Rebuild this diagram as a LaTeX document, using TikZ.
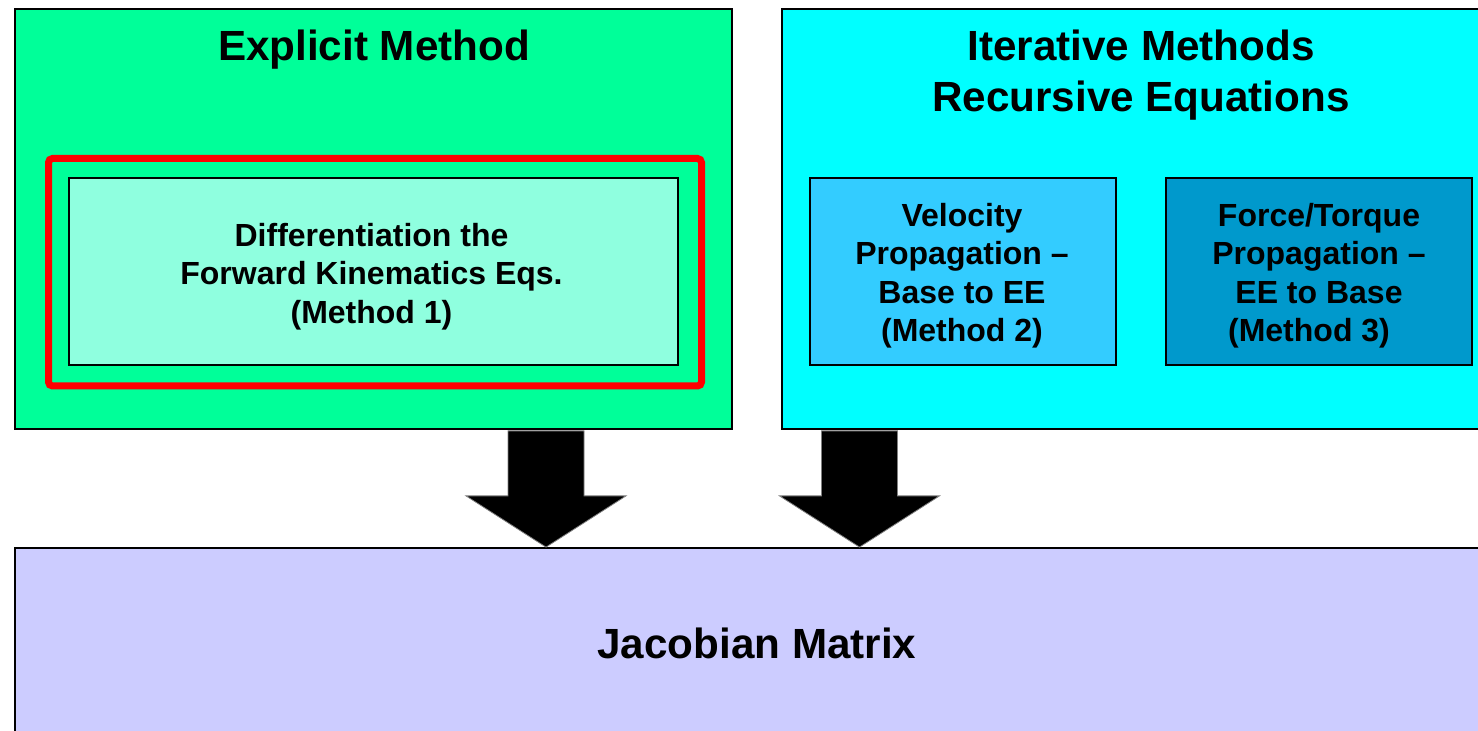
\documentclass[tikz,border=0pt]{standalone}
\usepackage{fontspec}
\setmainfont{Liberation Sans}
\usetikzlibrary{calc}
\definecolor{explicitgreen}{HTML}{00FF99}
\definecolor{itercyan}{HTML}{00FFFF}
\definecolor{innergreen}{HTML}{8FFFDF}
\definecolor{velblue}{HTML}{33CCFF}
\definecolor{forceblue}{HTML}{0099CC}
\definecolor{jacblue}{HTML}{CCCCFF}
\definecolor{redframe}{HTML}{FF0000}
\tikzset{
  outerbox/.style={draw=black, line width=0.9pt, inner sep=0pt, rectangle},
  innerbox/.style={draw=black, line width=0.75pt, inner sep=0pt, rectangle},
  boxtext/.style={inner sep=0pt, align=center, font=\fontsize{16}{19.25}\selectfont\bfseries},
  titletext/.style={inner sep=0pt, align=center, font=\fontsize{21.1}{25.5}\selectfont\bfseries},
  blockarrow/.style={fill=black, draw=gray, line width=0.4pt}
}
\begin{document}
\begin{tikzpicture}[x=0.5pt,y=-0.5pt]
\useasboundingbox (0,0) rectangle (1478,731);
\clip (0,0) rectangle (1478,731);
% outer panels
\node[outerbox, fill=explicitgreen, minimum width=358.5pt, minimum height=210pt] (explicit) at (373.5,219) {};
\node[outerbox, fill=itercyan, minimum width=359pt, minimum height=210pt] (iter) at (1141,219) {};
\node[outerbox, fill=jacblue, minimum width=742.5pt, minimum height=96pt] (jac) at (757.5,644) {};
\node[titletext] (jactext) at (757,643) {Jacobian Matrix};
% titles
\node[titletext] (explicittitle) at (374,50) {Explicit Method};
\node[titletext] (itertitle) at (1141,75.5) {Iterative Methods\\Recursive Equations};
% red frame
\node[draw=redframe, line width=3.5pt, rounded corners=2pt, minimum width=326.5pt, minimum height=113.75pt, inner sep=0pt] (redbox) at (375,272.25) {};
% inner boxes
\node[innerbox, fill=innergreen, minimum width=304.5pt, minimum height=93.5pt] (m1) at (373.5,271.5) {};
\node[innerbox, fill=velblue, minimum width=153pt, minimum height=93.5pt] (m2) at (963,271.5) {};
\node[innerbox, fill=forceblue, minimum width=153pt, minimum height=93.5pt] (m3) at (1319,271.5) {};
\node[boxtext] (m1text) at ($(m1.center)+(-2,5)$) {Differentiation the\\Forward Kinematics Eqs.\\(Method 1)};
\node[boxtext] (m2text) at ($(m2.center)+(-1,4)$) {Velocity\\Propagation --\\Base to EE\\(Method 2)};
\node[boxtext] (m3text) at ($(m3.center)+(0,4)$) {Force/Torque\\Propagation --\\EE to Base\\(Method 3)\hspace*{10pt}};
% block arrows
\coordinate (a1s) at (explicit.south -| 546,0);
\coordinate (a1e) at (jac.north -| 546,0);
\coordinate (a2s) at (iter.south -| 859.5,0);
\coordinate (a2e) at (jac.north -| 859.5,0);
\draw[blockarrow] ($(a1s)+(-38,1)$) -- ($(a1s)+(38,1)$) -- ($(a1s)+(38,66)$) -- ($(a1s)+(80,66)$)
  -- (a1e) -- ($(a1s)+(-80,66)$) -- ($(a1s)+(-38,66)$) -- cycle;
\draw[blockarrow] ($(a2s)+(-38,1)$) -- ($(a2s)+(38,1)$) -- ($(a2s)+(38,66)$) -- ($(a2s)+(80,66)$)
  -- (a2e) -- ($(a2s)+(-80,66)$) -- ($(a2s)+(-38,66)$) -- cycle;
\end{tikzpicture}
\end{document}
